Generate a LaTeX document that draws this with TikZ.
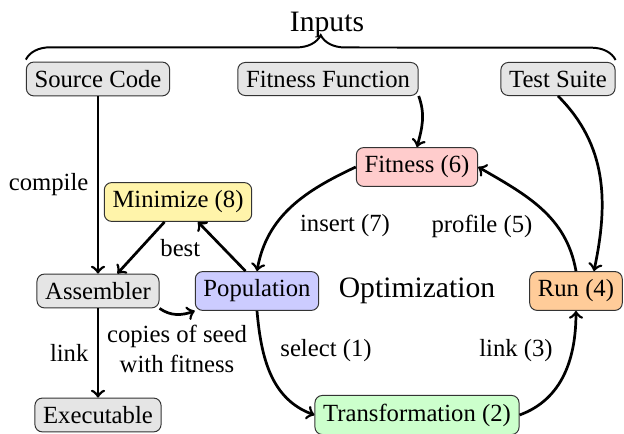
\documentclass[tikz,border=0pt]{standalone}
\usepackage{fontspec}
\setmainfont{Liberation Serif}
\usetikzlibrary{decorations.pathreplacing}
\definecolor{cmin}{HTML}{FFF4AA}
\definecolor{crun}{HTML}{FFCC99}
\begin{document}
\begin{tikzpicture}[x=0.405pt,y=-0.405pt,
  box/.style={draw=black!80, line width=0.4pt, rounded corners=3pt, inner sep=3.33pt},
  inbox/.style={box, fill=gray!20},
  flow/.style={->, line width=1.1pt},
  lbl/.style={inner sep=0pt}]
\useasboundingbox (0,0) rectangle (624,434);
% nodes
\node[inbox] (src) at (98,79) {Source Code};
\node[inbox] (ff) at (328,79) {Fitness Function};
\node[inbox] (ts) at (558,79) {Test Suite};
\node[box, fill=red!20] (fit) at (417,167) {Fitness (6)};
\node[box, fill=cmin] (min) at (178,202) {Minimize (8)};
\node[inbox] (asm) at (98,291) {Assembler};
\node[box, fill=blue!20] (pop) at (257,291) {Population};
\node[font=\large] (opt) at (417,291) {Optimization};
\node[box, fill=crun] (run) at (576,291) {Run (4)};
\node[inbox] (exe) at (98,415) {Executable};
\node[box, fill=green!20] (tr) at (417,415) {Transformation (2)};
% brace
\draw[line width=0.8pt, decorate, decoration={brace, amplitude=10pt, raise=0.8pt}]
  (src.north west) -- (ts.north east);
\node[font=\large, anchor=base] (inputs) at (327,32) {Inputs};
% edges
\draw[flow] (src) -- node[left] {compile} (asm);
\draw[flow] (asm) -- node[left] {link} (exe);
\draw[flow] (min.-124) -- node[right=4pt] {best} (asm.42);
\draw[flow] (pop.120) -- (min.-45);
\draw[flow] (asm.south east) to[out=-35,in=200] (pop.south west);
\draw[flow] (pop.south) to[out=-85,in=160] (tr.west);
\draw[flow] (tr.east) to[out=20,in=-90] (run.south);
\draw[flow] (run.north) to[out=100,in=-30] (fit.east);
\draw[flow] (fit.west) to[out=205,in=80] (pop.north);
\draw[flow] (ff.south east) to[out=-70,in=75] (fit.north);
\draw[flow] (ts.south) to[out=-45,in=78] (run.48);
% labels
\node[align=center] (copies) at (177,349) {copies of seed\\with fitness};
\node (lsel) at (326,351) {select (1)};
\node (lins) at (345,226) {insert (7)};
\node (lprof) at (482,226) {profile (5)};
\node (llink) at (516,351) {link (3)};
\end{tikzpicture}
\end{document}
